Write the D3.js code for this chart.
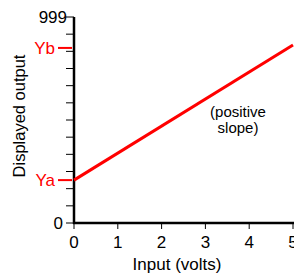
<!DOCTYPE html>
<html>
<head>
<meta charset="utf-8">
<script src="https://cdn.jsdelivr.net/npm/d3@7"></script>
<style>
  body { margin: 0; background: #fff; }
  text { font-family: "Liberation Sans", Arial, sans-serif; }
</style>
</head>
<body>
<script>
// chart values
var xTicks = [0, 1, 2, 3, 4, 5];
var yMax = 999;
var yLabelTicks = [0, 999];
var yMinorCount = 12;
var refLabels = ["Ya", "Yb"];
var refValues = [208, 849];
var lineX = [0, 5];
var lineY = [208, 863];

var width = 294, height = 275;

var svg = d3.select("body").append("svg")
    .attr("width", width)
    .attr("height", height);

var x = d3.scaleLinear().domain([0, 5]).range([74, 293]);
var y = d3.scaleLinear().domain([0, yMax]).range([223, 17]);

// minor y ticks
var yTickVals = d3.range(0, yMinorCount + 1).map(function(i) { return i * yMax / yMinorCount; });
svg.selectAll(".ytick").data(yTickVals).enter().append("line")
    .attr("x1", 66).attr("x2", 74)
    .attr("y1", function(d) { return y(d); })
    .attr("y2", function(d) { return y(d); })
    .attr("stroke", "#000").attr("stroke-width", 1);

svg.selectAll(".ylab").data(yLabelTicks).enter().append("text")
    .attr("x", function(d) { return d === 0 ? 63 : 67; })
    .attr("y", function(d) { return y(d) + 6; })
    .attr("text-anchor", "end")
    .attr("font-size", 17)
    .text(function(d) { return d; });

// x ticks
svg.selectAll(".xtick").data(xTicks).enter().append("line")
    .attr("x1", function(d) { return x(d); })
    .attr("x2", function(d) { return x(d); })
    .attr("y1", 223).attr("y2", 229)
    .attr("stroke", "#000").attr("stroke-width", 1);

svg.selectAll(".xlab").data(xTicks).enter().append("text")
    .attr("x", function(d) { return x(d); })
    .attr("y", 248)
    .attr("text-anchor", "middle")
    .attr("font-size", 17)
    .text(function(d) { return d; });

// reference markers
svg.selectAll(".ref").data(refValues).enter().append("line")
    .attr("x1", 58).attr("x2", 72)
    .attr("y1", function(d) { return y(d); })
    .attr("y2", function(d) { return y(d); })
    .attr("stroke", "#f00").attr("stroke-width", 2);

svg.selectAll(".reflab").data(refValues).enter().append("text")
    .attr("x", 55)
    .attr("y", function(d) { return y(d) + 6; })
    .attr("text-anchor", "end")
    .attr("font-size", 17)
    .attr("fill", "#f00")
    .text(function(d, i) { return refLabels[i]; });

// axes
svg.append("line")
    .attr("x1", x(0)).attr("x2", x(0))
    .attr("y1", y(yMax)).attr("y2", y(0) + 1)
    .attr("stroke", "#000").attr("stroke-width", 2.5);
svg.append("line")
    .attr("x1", x(0) - 1).attr("x2", width)
    .attr("y1", y(0)).attr("y2", y(0))
    .attr("stroke", "#000").attr("stroke-width", 2.5);

// data line
var line = d3.line()
    .x(function(d) { return x(d[0]); })
    .y(function(d) { return y(d[1]); });
svg.append("path")
    .datum(d3.zip(lineX, lineY))
    .attr("d", line)
    .attr("fill", "none")
    .attr("stroke", "#f00")
    .attr("stroke-width", 3);

// labels
svg.append("text")
    .attr("x", 177).attr("y", 270)
    .attr("text-anchor", "middle")
    .attr("font-size", 17)
    .text("Input (volts)");

svg.append("text")
    .attr("transform", "translate(25,116) rotate(-90)")
    .attr("text-anchor", "middle")
    .attr("font-size", 16.5)
    .text("Displayed output");

svg.append("text")
    .attr("x", 238).attr("y", 117)
    .attr("text-anchor", "middle")
    .attr("font-size", 15)
    .text("(positive");
svg.append("text")
    .attr("x", 238).attr("y", 133)
    .attr("text-anchor", "middle")
    .attr("font-size", 15)
    .text("slope)");
</script>
</body>
</html>
